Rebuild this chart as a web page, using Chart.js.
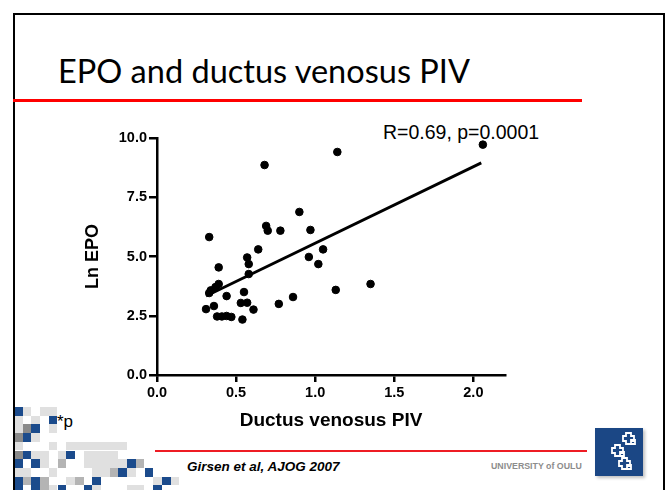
<!DOCTYPE html>
<html>
<head>
<meta charset="utf-8">
<script src="https://cdn.jsdelivr.net/npm/chart.js@4.4.1/dist/chart.umd.min.js"></script>
<style>
  html, body { margin: 0; padding: 0; background: #fff; }
  #slide { position: relative; width: 669px; height: 490px; overflow: hidden; background: #fff; }
  #frame { position: absolute; left: 13px; top: 13px; width: 652px; height: 500px;
           border: 2.5px solid #000; box-sizing: border-box; }
  #title { position: absolute; left: 58px; top: 51px; font-family: Lato, "Open Sans", sans-serif;
           font-size: 32.5px; color: #000; white-space: nowrap; }
  #redTop { position: absolute; left: 13px; top: 99px; width: 569px; height: 3px; background: #ff0000; }
  #redBottom { position: absolute; left: 155px; top: 450px; width: 432px; height: 2px; background: #ee1c24; }
  #stats { position: absolute; left: 383px; top: 121px; font-family: "Liberation Sans", Arial, sans-serif;
           font-size: 19.5px; color: #000; white-space: nowrap; }
  #cite { position: absolute; left: 187px; top: 459px; font-family: "Liberation Sans", Arial, sans-serif;
          font-size: 13.5px; font-weight: bold; font-style: italic; color: #000; white-space: nowrap; }
  #uni { position: absolute; left: 491px; top: 461px; font-family: "Liberation Sans", Arial, sans-serif;
         font-size: 8.8px; font-weight: bold; color: #8c8c8c; white-space: nowrap; }
  #note { position: absolute; left: 57px; top: 412px; font-family: "Liberation Sans", Arial, sans-serif;
          font-size: 17px; color: #000; }
  #logo { position: absolute; left: 595px; top: 428px; width: 48px; height: 48px; background: #1b4785;
          box-shadow: 2px 2px 3px rgba(0,0,0,0.25); }
  .cell { position: absolute; width: 8.7px; height: 8.7px; }
  #chart { position: absolute; left: 0; top: 0; }
</style>
</head>
<body>
<div id="slide">
  <div id="mosaic"></div>
  <div id="frame"></div>
  <div id="title">EPO and ductus venosus PIV</div>
  <div id="redTop"></div>
  <div id="stats">R=0.69, p=0.0001</div>
  <div id="note">*p</div>
  <div id="redBottom"></div>
  <div id="cite">Girsen et al, AJOG 2007</div>
  <div id="uni">UNIVERSITY of OULU</div>
  <div id="logo">
    <svg width="48" height="48" viewBox="0 0 48 48">
      <path d="M31 5 h5 v3 h3 v5 h-3 v3 h-5 v-3 h-3 v-5 h3z M36 12 h4 v4 h-4z
               M20 17 h5 v3 h3 v5 h-3 v3 h-5 v-3 h-3 v-5 h3z M25 24 h4 v4 h-4z
               M27 30 h5 v3 h3 v5 h-3 v3 h-5 v-3 h-3 v-5 h3z M32 37 h4 v4 h-4z"
            fill="none" stroke="#fff" stroke-width="1.8"/>
    </svg>
  </div>
  <canvas id="chart" width="669" height="490"></canvas>
</div>

<script>
// Scatter: ductus venosus PIV vs Ln EPO
const pivValues = [
  0.31, 0.33, 0.36, 0.33, 0.34, 0.37, 0.39, 0.39, 0.38, 0.41,
  0.44, 0.47, 0.44, 0.54, 0.53, 0.57, 0.55, 0.61, 0.57, 0.58,
  0.58, 0.64, 0.68, 0.69, 0.70, 0.78, 0.77, 0.86, 0.90, 0.97,
  0.96, 1.05, 1.02, 1.13, 1.14, 1.35, 2.06
];
const lnEpoValues = [
  2.78, 5.82, 2.91, 3.46, 3.57, 3.71, 3.84, 4.54, 2.47, 2.47,
  2.49, 2.45, 3.33, 2.34, 3.04, 3.05, 3.50, 2.76, 4.96, 4.68,
  4.26, 5.30, 8.86, 6.29, 6.09, 6.09, 3.00, 3.29, 6.88, 6.12,
  4.98, 5.30, 4.68, 3.59, 9.41, 3.84, 9.72
];

// regression line end points
const fitX = [0.31, 2.05];
const fitY = [3.33, 8.95];

const xTicks = [0.0, 0.5, 1.0, 1.5, 2.0];
const yTicks = [0.0, 2.5, 5.0, 7.5, 10.0];

// background pixel mosaic (B blue, D dark grey, M grey, L light, . empty)
const MOSAIC = [
  'BL.LL',
  'L.L.B',
  'LDB.L',
  'DBL',
  'L...L.LLLLLLL',
  'DBLL.LB.LLLL',
  'B.BL.M..LLLLLBM',
  'LL..L....LLMBL.B',
  'BMBM..LM.B......LBL',
  'B.BMLB..BL...LL.B'
];
const MOSAIC_COLORS = { B: '#1b4b8c', D: '#8a8a8a', M: '#b4b4b4', L: '#e0e0e0' };

const mosaic = document.getElementById('mosaic');
MOSAIC.forEach((row, r) => {
  [...row].forEach((ch, c) => {
    if (ch === '.') return;
    const d = document.createElement('div');
    d.className = 'cell';
    d.style.left = (14 + c * 8.7) + 'px';
    d.style.top = (407 + r * 8.7) + 'px';
    d.style.background = MOSAIC_COLORS[ch];
    mosaic.appendChild(d);
  });
});

const FONT = "'Liberation Sans', Arial, sans-serif";

new Chart(document.getElementById('chart'), {
  type: 'scatter',
  data: {
    datasets: [
      {
        data: pivValues.map((x, i) => ({ x, y: lnEpoValues[i] })),
        backgroundColor: '#000',
        borderColor: '#000',
        pointRadius: 3.8,
        pointHoverRadius: 3.8,
      },
      {
        type: 'line',
        data: fitX.map((x, i) => ({ x, y: fitY[i] })),
        borderColor: '#000',
        borderWidth: 2.8,
        pointRadius: 0,
        fill: false,
      },
    ],
  },
  options: {
    responsive: false,
    animation: false,
    devicePixelRatio: 1,
    layout: { padding: { left: 77, right: 164, top: 138, bottom: 55 } },
    plugins: { legend: { display: false }, tooltip: { enabled: false } },
    scales: {
      x: {
        type: 'linear',
        min: 0,
        max: 2.2,
        afterFit: s => { s.height = 60; },
        afterBuildTicks: s => { s.ticks = xTicks.map(v => ({ value: v })); },
        border: { display: true, color: '#000', width: 2.5 },
        grid: { drawOnChartArea: false, drawTicks: true, tickLength: 7, color: '#000', lineWidth: 2.5 },
        ticks: {
          color: '#000', padding: 2,
          font: { family: FONT, size: 14.5, weight: 'bold' },
          callback: v => Number(v).toFixed(1),
        },
        title: {
          display: true, text: 'Ductus venosus PIV', color: '#000',
          font: { family: FONT, size: 19, weight: 'bold' },
          padding: { top: 0, bottom: 3 },
        },
      },
      y: {
        type: 'linear',
        min: 0,
        max: 10,
        afterFit: s => { s.width = 80; },
        afterBuildTicks: s => { s.ticks = yTicks.map(v => ({ value: v })); },
        border: { display: true, color: '#000', width: 2.5 },
        grid: { drawOnChartArea: false, drawTicks: true, tickLength: 8, color: '#000', lineWidth: 2.5 },
        ticks: {
          color: '#000', padding: 2,
          font: { family: FONT, size: 14.5, weight: 'bold' },
          callback: v => Number(v).toFixed(1),
        },
        title: {
          display: true, text: 'Ln EPO', color: '#000',
          font: { family: FONT, size: 18, weight: 'bold' },
          padding: { top: 5, bottom: 0 },
        },
      },
    },
  },
});
</script>
</body>
</html>
